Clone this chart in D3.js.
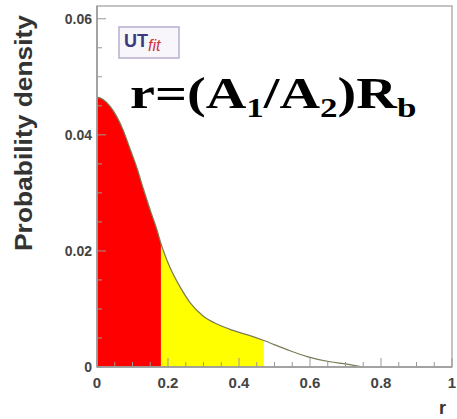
<!DOCTYPE html>
<html><head><meta charset="utf-8">
<script src="https://cdn.jsdelivr.net/npm/d3@7"></script>
<style>html,body{margin:0;padding:0;background:#fff;}svg{display:block;}</style>
</head><body>
<svg id="c" width="457" height="419"></svg>
<script>
const rValues = [0, 0.017, 0.037, 0.056, 0.073, 0.093, 0.113, 0.130, 0.149, 0.169, 0.18, 0.19, 0.206, 0.234, 0.262, 0.299, 0.338, 0.383, 0.431, 0.468, 0.535, 0.592, 0.656, 0.704, 0.749];
const densityValues = [0.0465, 0.0461, 0.0449, 0.0431, 0.0409, 0.0376, 0.0342, 0.0308, 0.0272, 0.0236, 0.0213, 0.0195, 0.0171, 0.0138, 0.0111, 0.0088, 0.0074, 0.0063, 0.0054, 0.0046, 0.0030, 0.0018, 0.0009, 0.0005, 0.0];
const redLimit = 0.18;
const yellowLimit = 0.47;
const xTickValues = [0, 0.2, 0.4, 0.6, 0.8, 1];
const xTickLabels = ["0", "0.2", "0.4", "0.6", "0.8", "1"];
const yTickValues = [0, 0.02, 0.04, 0.06];
const yTickLabels = ["0", "0.02", "0.04", "0.06"];

const svg = d3.select("#c");
const x = d3.scaleLinear().domain([0, 1]).range([97, 452]);
const y = d3.scaleLinear().domain([0, 0.0622]).range([367, 6]);
const data = rValues.map((r, i) => ({r, d: densityValues[i]}));

const defs = svg.append("defs");
defs.append("clipPath").attr("id", "cr").append("rect")
  .attr("x", x(0)).attr("y", 0).attr("width", x(redLimit) - x(0)).attr("height", 419);
defs.append("clipPath").attr("id", "cy").append("rect")
  .attr("x", x(redLimit)).attr("y", 0).attr("width", x(yellowLimit) - x(redLimit)).attr("height", 419);

const area = d3.area().x(d => x(d.r)).y0(y(0)).y1(d => y(d.d)).curve(d3.curveMonotoneX);
const line = d3.line().x(d => x(d.r)).y(d => y(d.d)).curve(d3.curveMonotoneX);

svg.append("path").datum(data).attr("d", area).attr("fill", "#ff0000").attr("clip-path", "url(#cr)");
svg.append("path").datum(data).attr("d", area).attr("fill", "#ffff00").attr("clip-path", "url(#cy)");
svg.append("path").datum(data).attr("d", line).attr("fill", "none").attr("stroke", "#7a7a55").attr("stroke-width", 1.2);

// frame
svg.append("rect").attr("x", x(0)).attr("y", y(0.0622)).attr("width", x(1) - x(0)).attr("height", y(0) - y(0.0622))
  .attr("fill", "none").attr("stroke", "#b0b0b0").attr("stroke-width", 1.5);

// axes ticks (inside, ROOT style)
const gx = svg.append("g").attr("transform", `translate(0,${y(0)})`);
gx.selectAll("line").data(d3.range(0, 21)).join("line")
  .attr("x1", i => x(i * 0.05)).attr("x2", i => x(i * 0.05))
  .attr("y1", 0).attr("y2", i => i % 4 === 0 ? -9 : -5)
  .attr("stroke", "#999").attr("stroke-width", 1);
gx.append("line").attr("x1", x(0)).attr("x2", x(1)).attr("stroke", "#999").attr("stroke-width", 1.5);
gx.selectAll("text").data(xTickValues).join("text")
  .attr("x", d => x(d)).attr("y", 21).attr("text-anchor", "middle")
  .attr("font-family", "Liberation Sans, Arial, sans-serif").attr("font-weight", "bold").attr("font-size", 15)
  .attr("fill", "#444").text((d, i) => xTickLabels[i]);

const gy = svg.append("g").attr("transform", `translate(${x(0)},0)`);
gy.selectAll("line").data(d3.range(0, 13)).join("line")
  .attr("y1", i => y(i * 0.005)).attr("y2", i => y(i * 0.005))
  .attr("x1", 0).attr("x2", i => i % 4 === 0 ? 9 : 5)
  .attr("stroke", "#999").attr("stroke-width", 1);
gy.append("line").attr("y1", y(0)).attr("y2", y(0.0622)).attr("stroke", "#999").attr("stroke-width", 1.5);
gy.selectAll("text").data(yTickValues).join("text")
  .attr("x", -5).attr("y", d => y(d) + 5).attr("text-anchor", "end")
  .attr("font-family", "Liberation Sans, Arial, sans-serif").attr("font-weight", "bold").attr("font-size", 14)
  .attr("fill", "#444").text((d, i) => yTickLabels[i]);

// axis titles
svg.append("text").attr("transform", "translate(32,133) rotate(-90)").attr("text-anchor", "middle")
  .attr("font-family", "Liberation Sans, Arial, sans-serif").attr("font-weight", "bold").attr("font-size", 23)
  .attr("fill", "#333").attr("textLength", 236).attr("lengthAdjust", "spacingAndGlyphs").text("Probability density");
svg.append("text").attr("x", 446).attr("y", 414).attr("text-anchor", "end")
  .attr("font-family", "Liberation Sans, Arial, sans-serif").attr("font-weight", "bold").attr("font-size", 18)
  .attr("fill", "#333").text("r");

// UTfit logo
const logo = svg.append("g");
logo.append("rect").attr("x", 119).attr("y", 27).attr("width", 60).attr("height", 31)
  .attr("fill", "#f8f6fb").attr("stroke", "#b8aed0").attr("stroke-width", 1.5);
const lt = logo.append("text").attr("x", 124).attr("y", 47).attr("font-family", "Liberation Sans, Arial, sans-serif");
lt.append("tspan").attr("font-weight", "bold").attr("font-size", 18).attr("fill", "#3a3a80").text("UT");
lt.append("tspan").attr("font-style", "italic").attr("font-size", 16).attr("fill", "#d03040").attr("dy", 4).text("fit");

// formula
const f = svg.append("text").attr("x", 0).attr("y", 0)
  .attr("transform", "translate(130,108) scale(1.25,1)")
  .attr("font-family", "Liberation Serif, Times New Roman, serif").attr("font-weight", "bold").attr("font-size", 45).attr("fill", "#000");
f.append("tspan").text("r=(A");
f.append("tspan").attr("font-size", 28).attr("dy", 9).text("1");
f.append("tspan").attr("dy", -9).text("/A");
f.append("tspan").attr("font-size", 28).attr("dy", 9).text("2");
f.append("tspan").attr("dy", -9).text(")R");
f.append("tspan").attr("font-size", 28).attr("dy", 9).text("b");
</script>
</body></html>
